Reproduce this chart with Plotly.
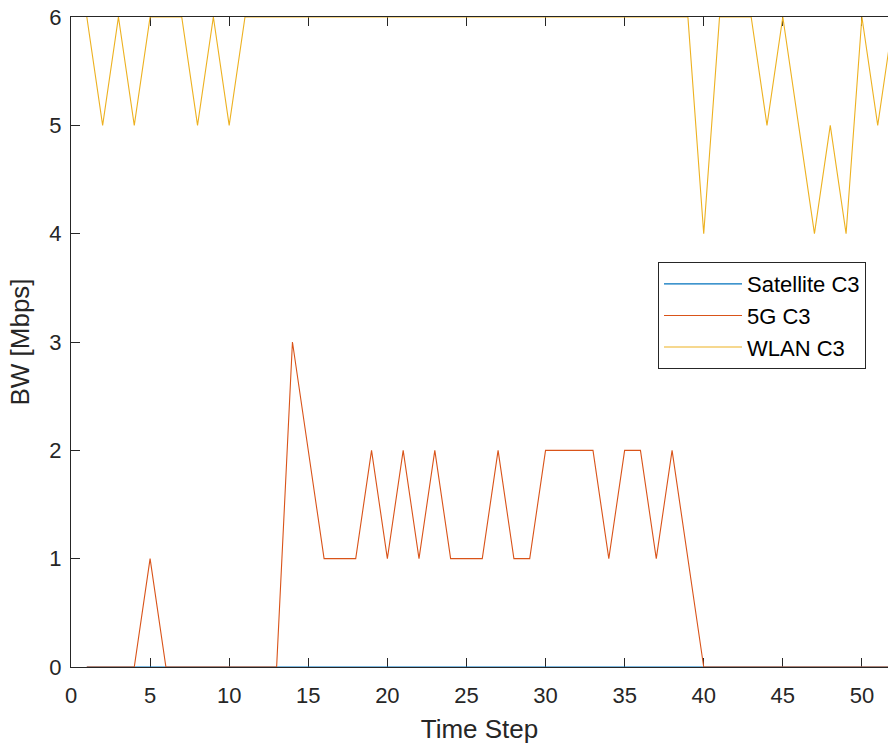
import plotly.graph_objects as go

# Time steps and bandwidth per link (Mbps)
time_step = list(range(1, 53))

satellite_c3 = [0] * 52

fiveg_c3 = [0, 0, 0, 0, 1, 0, 0, 0, 0, 0,
            0, 0, 0, 3, 2, 1, 1, 1, 2, 1,
            2, 1, 2, 1, 1, 1, 2, 1, 1, 2,
            2, 2, 2, 1, 2, 2, 1, 2, 1, 0,
            0, 0, 0, 0, 0, 0, 0, 0, 0, 0,
            0, 0]

wlan_c3 = [6, 5, 6, 5, 6, 6, 6, 5, 6, 5,
           6, 6, 6, 6, 6, 6, 6, 6, 6, 6,
           6, 6, 6, 6, 6, 6, 6, 6, 6, 6,
           6, 6, 6, 6, 6, 6, 6, 6, 6, 4,
           6, 6, 6, 5, 6, 5, 4, 5, 4, 6,
           5, 6]

series_names = ["Satellite C3", "5G C3", "WLAN C3"]
series_colors = ["#0072BD", "#D95319", "#EDB120"]

x_ticks = [0, 5, 10, 15, 20, 25, 30, 35, 40, 45, 50]
y_ticks = [0, 1, 2, 3, 4, 5, 6]

axis_color = "#262626"
font_family = "Liberation Sans, Arial, Helvetica, sans-serif"

fig = go.Figure()
for name, values, color in zip(series_names, [satellite_c3, fiveg_c3, wlan_c3], series_colors):
    fig.add_trace(go.Scatter(
        x=time_step, y=values, name=name, mode="lines",
        line=dict(color=color, width=1.1),
    ))

fig.update_layout(
    width=888, height=746,
    margin=dict(l=71, r=0, t=17, b=79),
    paper_bgcolor="white", plot_bgcolor="white",
    font=dict(family=font_family, color=axis_color, size=22),
    showlegend=True,
    legend=dict(
        x=0.7185, y=0.623, xanchor="left", yanchor="top",
        bgcolor="white", bordercolor=axis_color, borderwidth=1,
        font=dict(size=22, color="black"),
        itemwidth=78, tracegroupgap=0,
    ),
)

fig.update_xaxes(
    range=[0, 51.65], tickvals=x_ticks, ticks="inside", ticklen=9,
    tickcolor=axis_color, tickwidth=1, showline=True, linecolor=axis_color,
    linewidth=1, mirror="ticks", showgrid=False, zeroline=False,
    layer="below traces", ticklabelstandoff=9,
    title=dict(text="Time Step", font=dict(size=26), standoff=12),
    tickfont=dict(size=22),
)
fig.update_yaxes(
    range=[0, 6], tickvals=y_ticks, ticks="inside", ticklen=9,
    tickcolor=axis_color, tickwidth=1, showline=True, linecolor=axis_color,
    linewidth=1, mirror=False, showgrid=False, zeroline=False,
    layer="below traces", ticklabelstandoff=4,
    title=dict(text="BW [Mbps]", font=dict(size=26), standoff=12),
    tickfont=dict(size=22),
)

fig.write_html("out.html")
